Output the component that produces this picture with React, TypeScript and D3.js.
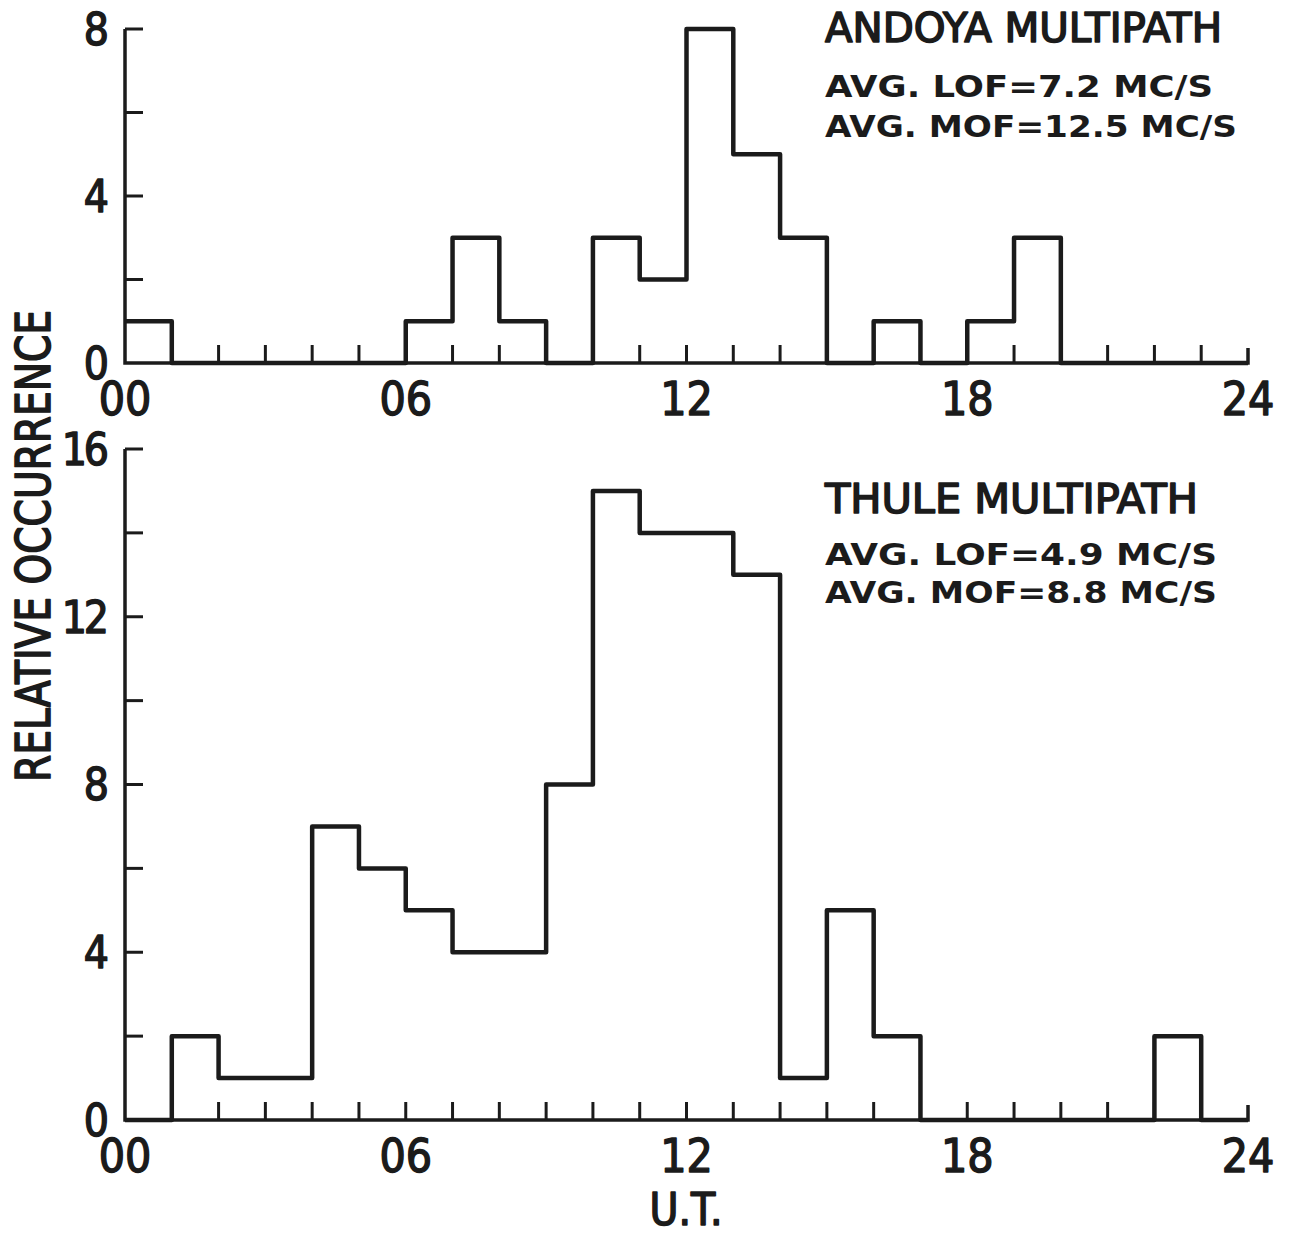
import React, { useEffect, useRef } from "react";
import * as d3 from "d3";

// hourly bins, 00..23 U.T.
const hours = d3.range(0, 24);
const andoya = [1, 0, 0, 0, 0, 0, 1, 3, 1, 0, 3, 2, 8, 5, 3, 0, 1, 0, 1, 3, 0, 0, 0, 0];
const thule = [0, 2, 1, 1, 7, 6, 5, 4, 4, 8, 15, 14, 14, 13, 1, 5, 2, 0, 0, 0, 0, 0, 2, 0];
const xTickLabels = ["00", "06", "12", "18", "24"];
const andoyaText = ["ANDOYA MULTIPATH", "AVG. LOF=7.2 MC/S", "AVG. MOF=12.5 MC/S"];
const thuleText = ["THULE MULTIPATH", "AVG. LOF=4.9 MC/S", "AVG. MOF=8.8 MC/S"];

const W = 1289;
const H = 1237;
const INK = "#1b1b1b";
const FONT = "'DejaVu Sans Condensed', 'DejaVu Sans', sans-serif";
const WIDE = "'DejaVu Sans', sans-serif";

// medium-weight lettering: regular face with a thin outline
const ink = (sel: any, w = 1.4) =>
  sel.attr("fill", INK).attr("stroke", INK).attr("stroke-width", w).attr("stroke-linejoin", "round");

const App = () => {
  const svgRef = useRef<SVGSVGElement>(null);

  useEffect(() => {
    document.body.style.margin = "0";
    const svg = d3.select(svgRef.current);
    svg.selectAll("*").remove();

    const x = d3.scaleLinear().domain([0, 24]).range([125, 1248]);

    const panel = (
      values: number[],
      yMax: number,
      top: number,
      bottom: number,
      text: string[],
      textY: number[],
      textW: number[]
    ) => {
      const y = d3.scaleLinear().domain([0, yMax]).range([bottom, top]);
      const g = svg.append("g");

      // axes
      g.append("path")
        .attr("d", `M${x(0)},${y(yMax)} V${y(0)} H${x(24)} V${y(0) - 15}`)
        .attr("fill", "none")
        .attr("stroke", INK)
        .attr("stroke-width", 3.5);

      g.selectAll(".yt")
        .data(d3.range(2, yMax + 1, 2))
        .join("line")
        .attr("x1", x(0))
        .attr("x2", x(0) + 18)
        .attr("y1", (d) => y(d))
        .attr("y2", (d) => y(d))
        .attr("stroke", INK)
        .attr("stroke-width", 3);

      ink(
        g.selectAll(".yl")
          .data(d3.range(0, yMax + 1, 4))
          .join("text")
          .attr("x", x(0) - 19)
          .attr("y", (d) => y(d))
          .attr("dy", "0.36em")
          .attr("text-anchor", "end")
          .attr("font-family", FONT)
          .attr("font-size", 44)
          .attr("letter-spacing", -3)
          .text((d) => d)
      );

      g.selectAll(".xt")
        .data(d3.range(1, 24))
        .join("line")
        .attr("x1", (d) => x(d))
        .attr("x2", (d) => x(d))
        .attr("y1", y(0))
        .attr("y2", y(0) - 18)
        .attr("stroke", INK)
        .attr("stroke-width", 3);

      ink(
        g.selectAll(".xl")
          .data(xTickLabels)
          .join("text")
          .attr("x", (d) => x(+d))
          .attr("y", y(0) + 52)
          .attr("text-anchor", "middle")
          .attr("font-family", FONT)
          .attr("font-size", 46)
          .text((d) => d)
      );

      // histogram outline
      const pts: [number, number][] = hours.map((h, i) => [h, values[i]]);
      pts.push([24, 0]);
      const line = d3
        .line<[number, number]>()
        .x((d) => x(d[0]))
        .y((d) => y(d[1]))
        .curve(d3.curveStepAfter);
      g.append("path")
        .attr("d", line(pts))
        .attr("fill", "none")
        .attr("stroke", INK)
        .attr("stroke-width", 4.5)
        .attr("stroke-linejoin", "round");

      // annotation
      text.forEach((s, i) => {
        const t = g.append("text")
          .attr("x", 825)
          .attr("y", textY[i])
          .attr("font-family", i === 0 ? FONT : WIDE)
          .attr("font-weight", i === 0 ? "normal" : "bold")
          .attr("font-size", i === 0 ? 41 : 30)
          .attr("textLength", textW[i])
          .attr("lengthAdjust", "spacingAndGlyphs")
          .text(s);
        if (i === 0) ink(t, 1.5);
        else t.attr("fill", INK);
      });
    };

    panel(andoya, 8, 29, 363, andoyaText, [42, 97, 137], [397, 388, 412]);
    panel(thule, 16, 449, 1120, thuleText, [513, 565, 603], [373, 392, 392]);

    ink(
      svg.append("text")
        .attr("transform", "translate(50,546) rotate(-90)")
        .attr("text-anchor", "middle")
        .attr("font-family", FONT)
        .attr("font-size", 48)
        .attr("textLength", 472)
        .attr("lengthAdjust", "spacingAndGlyphs")
        .text("RELATIVE OCCURRENCE"),
      1.6
    );

    ink(
      svg.append("text")
        .attr("x", 686)
        .attr("y", 1225)
        .attr("text-anchor", "middle")
        .attr("font-family", FONT)
        .attr("font-size", 44)
        .text("U.T."),
      1.5
    );
  }, []);

  return <svg ref={svgRef} width={W} height={H} style={{ display: "block", background: "#fff" }} />;
};

export default App;
